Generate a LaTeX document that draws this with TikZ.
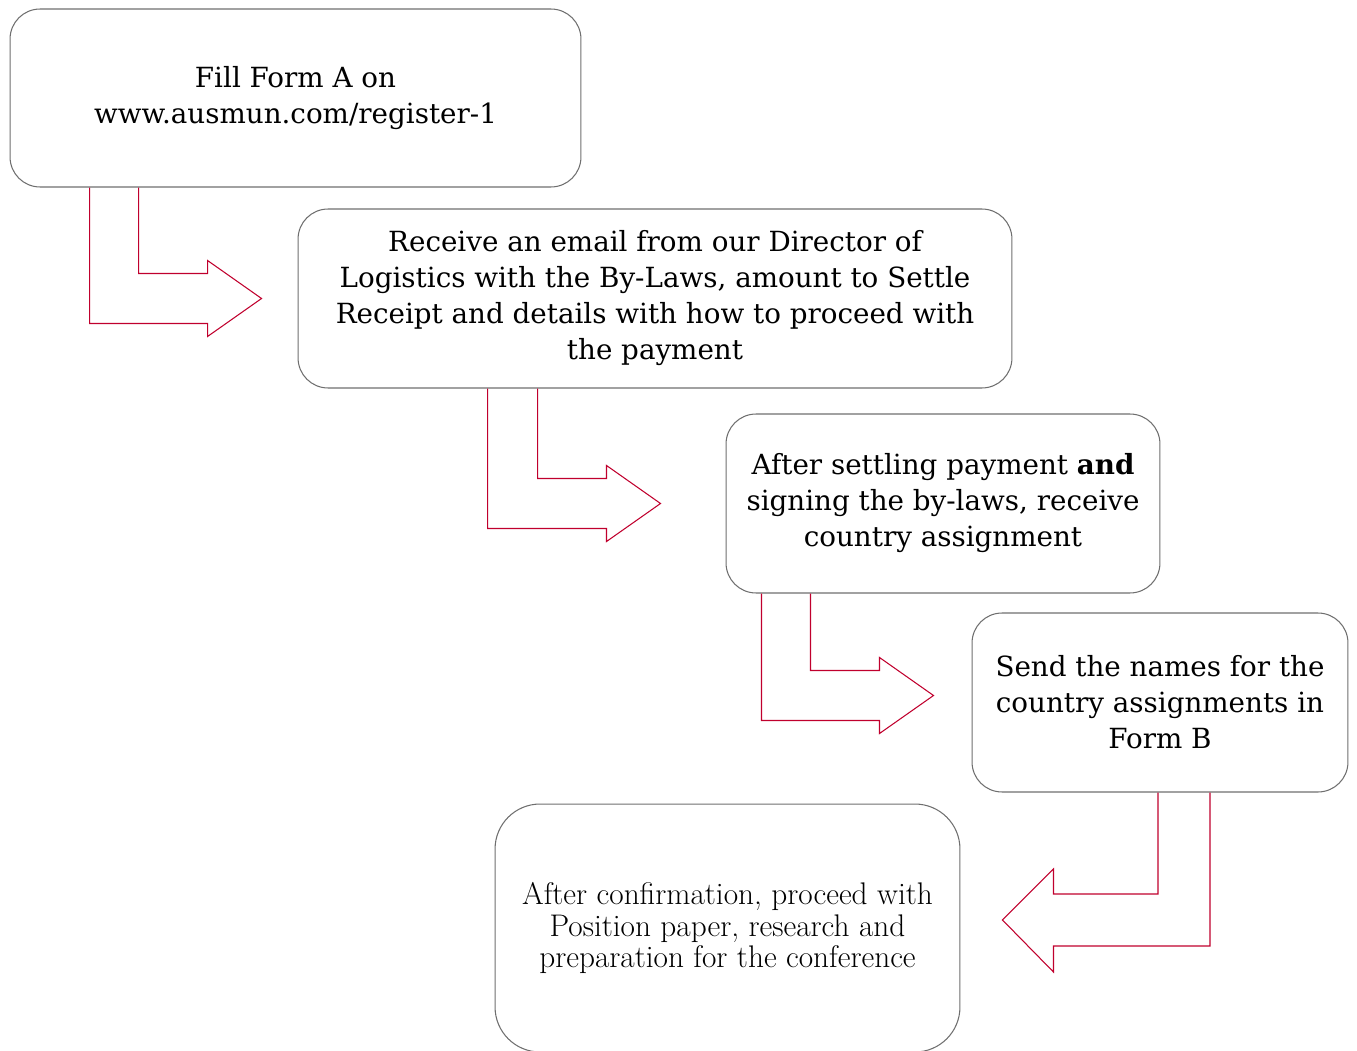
\documentclass[tikz,border=0pt]{standalone}
\usepackage{fontspec}
\usetikzlibrary{calc}
\newfontfamily\boxfont{DejaVu Serif}
\definecolor{arrowred}{RGB}{192,0,45}
\definecolor{boxgray}{RGB}{110,110,110}

\begin{document}
\begin{tikzpicture}[x=0.02cm, y=-0.02cm,
        box/.style={draw=boxgray, line width=0.6pt, rounded corners=0.6cm, align=center, minimum height=3.58cm, inner sep=0pt, font=\boxfont\fontsize{15.8}{20.5}\selectfont},
        bentarrow/.style={draw=arrowred, line width=0.6pt, line join=miter}]
        \useasboundingbox (0,0) rectangle (1357,1051);
        \node (form) [box, minimum width=11.42cm, minimum height=3.56cm] at (295.5,98) {Fill Form A on\\www.ausmun.com/register-1};
        \node (email) [box, minimum width=14.28cm] at (655,298.5) {Receive an email from our Director of\\Logistics with the By-Laws, amount to Settle\\Receipt and details with how to proceed with\\the payment};
        \node (assign) [box, minimum width=8.68cm] at (943,503.5) {After settling payment \textbf{and}\\signing the by-laws, receive\\country assignment};
        \node (names) [box, minimum width=7.52cm] at (1160,702.5) {Send the names for the\\country assignments in\\Form B};
        \node (prep) [box, minimum width=9.3cm, minimum height=4.96cm, rounded corners=0.9cm, font=\fontsize{17.8}{18.2}\selectfont] at (727.5,928) {After confirmation, proceed with\\Position paper, research and\\preparation for the conference};

        \draw [bentarrow] ($(form.south west)+(80,0)$) |- ($(email.west)+(-90,25)$) -- ++(0,13) -- ($(email.west)+(-36,0)$) -- ++(-54,-38) -- ++(0,13) -| ($(form.south west)+(129,0)$);
        \draw [bentarrow] ($(email.south west)+(190,0)$) |- ($(assign.west)+(-119,25)$) -- ++(0,13) -- ($(assign.west)+(-65,0)$) -- ++(-54,-38) -- ++(0,13) -| ($(email.south west)+(240,0)$);
        \draw [bentarrow] ($(assign.south west)+(36,0)$) |- ($(names.west)+(-92,18)$) -- ++(0,13) -- ($(names.west)+(-38,-7)$) -- ++(-54,-38) -- ++(0,13) -| ($(assign.south west)+(85,0)$);
        \draw [bentarrow] ($(names.south)+(50,0)$) |- ($(prep.east)+(93,18)$) -- ++(0,26) -- ($(prep.east)+(42,-8)$) -- ++(51,-51) -- ++(0,25) -| ($(names.south)+(-2,0)$);
    \end{tikzpicture}
\end{document}
